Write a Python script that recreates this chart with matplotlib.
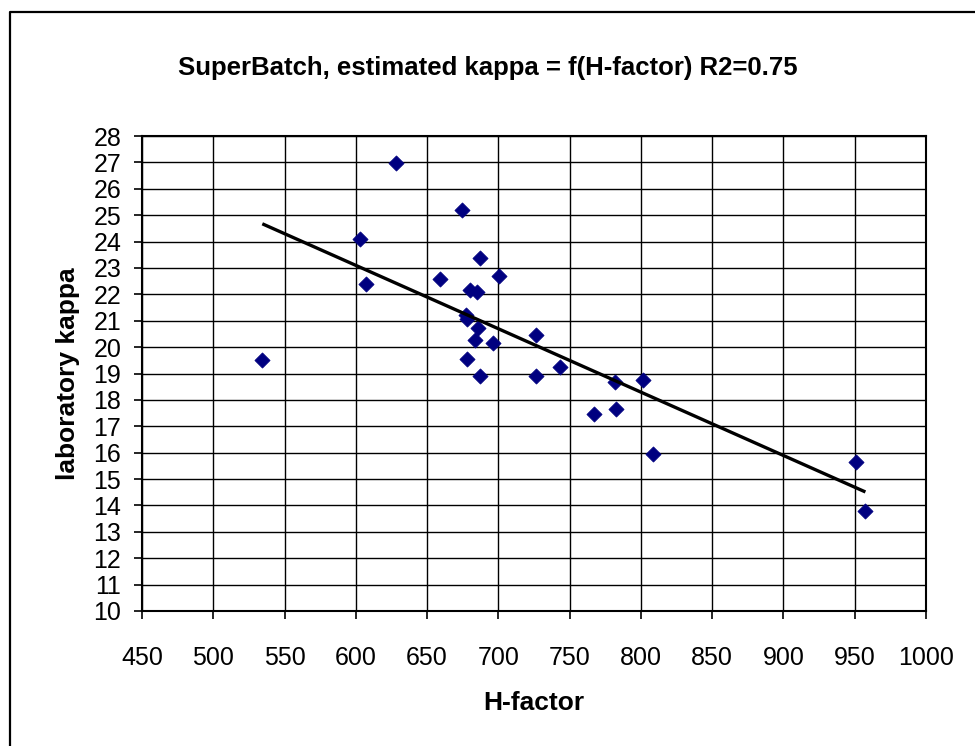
import matplotlib
matplotlib.use("Agg", force=True)
import matplotlib.pyplot as plt
from matplotlib.lines import Line2D
import numpy as np

plt.rcParams["font.family"] = ["Liberation Sans", "DejaVu Sans"]

# H-factor vs laboratory kappa
h_factor = [534.4, 602.9, 606.9, 627.9, 658.8, 674.6, 677.0, 678.1, 678.1, 680.0,
            683.5, 684.7, 685.6, 686.8, 687.0, 695.9, 700.6, 726.3, 726.3, 743.1,
            767.2, 781.9, 782.4, 801.6, 808.2, 950.7, 957.5]
kappa = [19.53, 24.09, 22.39, 26.98, 22.58, 25.18, 21.20, 21.05, 19.54, 22.15,
         20.26, 22.08, 20.74, 23.38, 18.91, 20.14, 22.70, 20.47, 18.91, 19.24,
         17.45, 18.69, 17.67, 18.75, 15.95, 15.65, 13.79]

x_ticks = list(range(450, 1001, 50))
y_ticks = list(range(10, 29))

title = "SuperBatch, estimated kappa = f(H-factor) R2=0.75"

fig = plt.figure(figsize=(9.75, 7.46), dpi=100)
ax = fig.add_axes([142 / 975, 1 - 611 / 746, (926 - 142) / 975, (611 - 136) / 746])

ax.scatter(h_factor, kappa, marker="D", s=60, color="#000080", edgecolors="#000080",
           linewidths=0.5, zorder=3)

# linear trend line over the data range
coef = np.polyfit(h_factor, kappa, 1)
xs = np.array([min(h_factor), max(h_factor)])
ax.plot(xs, np.polyval(coef, xs), color="black", lw=2.4, zorder=4, solid_capstyle="butt")

ax.set_xlim(450, 1000)
ax.set_ylim(10, 28)
ax.set_xticks(x_ticks)
ax.set_yticks(y_ticks)
ax.tick_params(axis="both", labelsize=18, direction="out", length=6, width=1.2,
               color="black")
ax.tick_params(axis="x", pad=19)
ax.tick_params(axis="y", pad=9)
ax.grid(True, color="black", lw=1.0)
ax.set_axisbelow(True)
for side in ax.spines.values():
    side.set_linewidth(1.5)
    side.set_color("black")

ax.set_xlabel("H-factor", fontsize=19, fontweight="bold")
ax.set_ylabel("laboratory kappa", fontsize=19, fontweight="bold")
ax.xaxis.set_label_coords(0.5, -(691 - 611) / 475)
ax.yaxis.set_label_coords(-(142 - 80) / 784, 0.5)
fig.text(0.5, 1 - 68 / 746, title, ha="center", va="center", fontsize=18.5,
         fontweight="bold")

# outer chart border (top and left edge visible)
fig.add_artist(Line2D([10 / 975, 10 / 975, 1.0], [0.0, 1 - 12 / 746, 1 - 12 / 746],
                      transform=fig.transFigure, color="black", lw=1.6))

fig.savefig("out.png", dpi=100)
plt.close(fig)
